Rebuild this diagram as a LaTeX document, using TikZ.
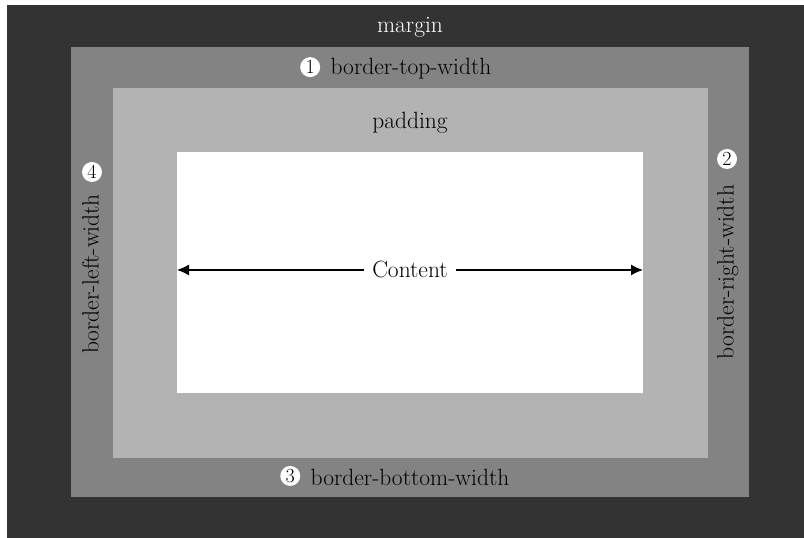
\documentclass[tikz,border=0pt]{standalone}
\usetikzlibrary{arrows.meta,positioning}
\definecolor{margincol}{HTML}{333333}
\definecolor{bordercol}{HTML}{838383}
\definecolor{padcol}{HTML}{B3B3B3}
\tikzset{
  doboz/.style={inner sep=0pt,outer sep=0pt},
  szam/.style={circle,fill=white,inner sep=0pt,minimum size=20pt,font=\fontsize{20}{20}\selectfont},
  felirat/.style={inner sep=0pt,font=\fontsize{23.5}{27}\selectfont},
  nyil/.style={-{Latex[length=12pt,width=11pt]},line width=1.3pt},
}

\begin{document}
\begin{tikzpicture}[x=1pt,y=1pt]
  \useasboundingbox (0,0) rectangle (804,538);
  \fill[white] (0,0) rectangle (804,538);
  % box layers
  \fill[margincol] (7,0) rectangle (804,533);
  \fill[bordercol] (71,41) rectangle (749,491);
  \fill[padcol] (113,80) rectangle (708,450);
  \node[doboz,fill=white,minimum width=466pt,minimum height=241pt] (cont) at (410,265.5) {};
  % labels
  \node[felirat,text=white,anchor=base] (marg) at (410,505) {margin};
  \node[felirat,anchor=base] (toptxt) at (411,463) {border-top-width};
  \node[szam,left=10pt of toptxt,yshift=2pt] (n1) {1};
  \node[felirat,anchor=base] (pad) at (410,409) {padding};
  \node[felirat,anchor=base] (bottxt) at (410,52) {border-bottom-width};
  \node[szam,left=10pt of bottxt,yshift=2pt] (n3) {3};
  \node[felirat,rotate=90,anchor=base] (lefttxt) at (98.5,264) {border-left-width};
  \node[szam] (n4) at (92,366) {4};
  \node[felirat,rotate=90,anchor=base] (righttxt) at (733.5,266) {border-right-width};
  \node[szam] (n2) at (727,379) {2};
  % content width
  \node[felirat,anchor=base,inner xsep=8pt] (cnt) at (410,260) {Content};
  \draw[nyil] (cnt.west) -- (cnt.west -| cont.west);
  \draw[nyil] (cnt.east) -- (cnt.east -| cont.east);
\end{tikzpicture}
\end{document}
